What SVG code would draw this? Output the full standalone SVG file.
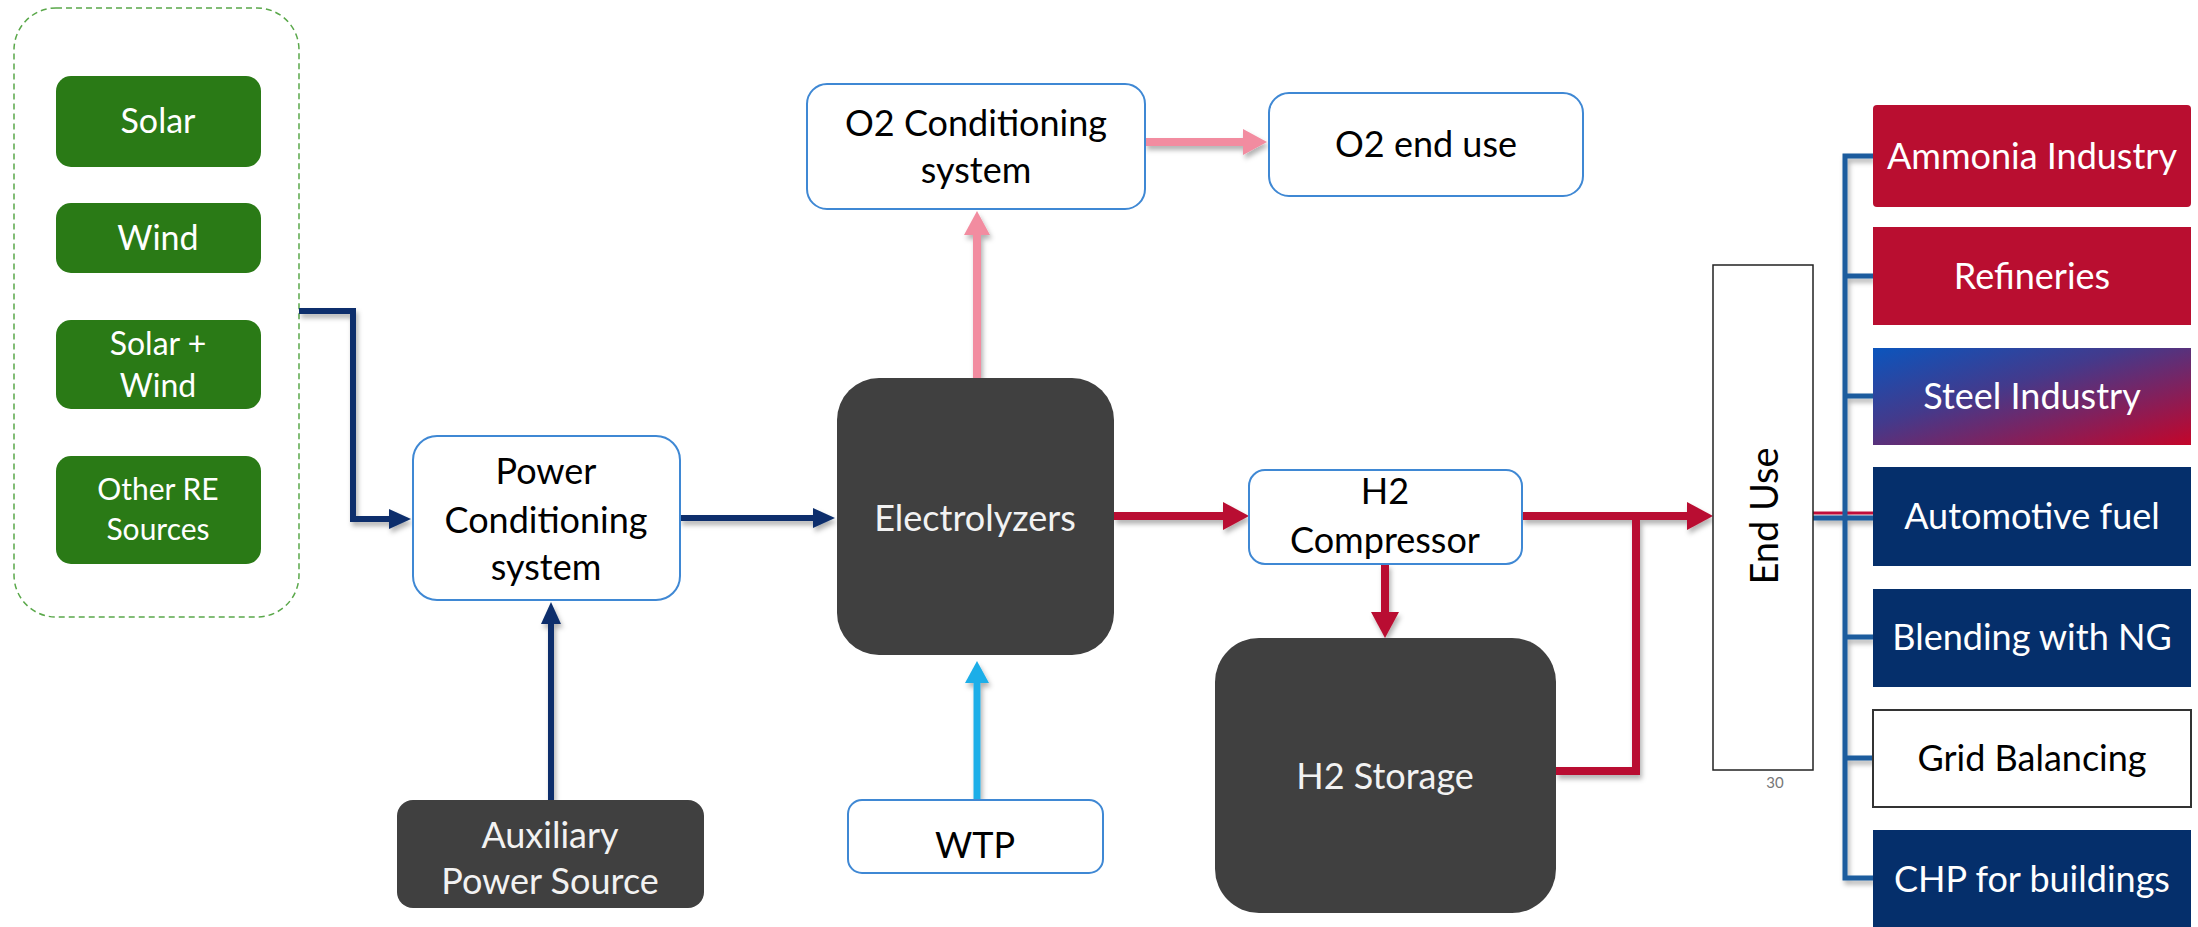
<svg xmlns="http://www.w3.org/2000/svg" width="2198" height="927" viewBox="0 0 2198 927">
<defs>
<style>
text{font-family:Lato,"Open Sans","Liberation Sans",sans-serif;text-anchor:middle}
.g{fill:#2a7a16}
.gt{fill:#ffffff;font-size:34px}
.wb{fill:#ffffff;stroke:#3f88d4;stroke-width:2}
.dk{fill:#404040}
.bt{fill:#000000;font-size:36px}
.wt{fill:#f2f2f2;font-size:36px}
.nv{fill:#052f6b}
.rd{fill:#b90e30}
.rt{fill:#ffffff;font-size:36px}
.c{fill:none;stroke-linejoin:miter}
.navy{stroke:#0b2f6c;stroke-width:6}
.red{stroke:#b90e30;stroke-width:8}
.pink{stroke:#f28ca0;stroke-width:8}
.lb{stroke:#1eaee8;stroke-width:7}
.bus{stroke:#1b5b9e;stroke-width:5}
</style>
<linearGradient id="steel" x1="0" y1="0" x2="1" y2="1">
<stop offset="0" stop-color="#0b55bd"/>
<stop offset="0.4" stop-color="#433a8c"/>
<stop offset="1" stop-color="#c4052a"/>
</linearGradient>
<filter id="sh" x="-20%" y="-20%" width="140%" height="140%">
<feDropShadow dx="2" dy="4" stdDeviation="2.5" flood-color="#000" flood-opacity="0.3"/>
</filter>
<marker id="mNavy" markerUnits="userSpaceOnUse" markerWidth="22" markerHeight="20" refX="12" refY="10" orient="auto"><path d="M0,0 L22,10 L0,20 z" fill="#0b2f6c"/></marker>
<marker id="mRed" markerUnits="userSpaceOnUse" markerWidth="26" markerHeight="28" refX="14" refY="14" orient="auto"><path d="M0,0 L26,14 L0,28 z" fill="#b90e30"/></marker>
<marker id="mPink" markerUnits="userSpaceOnUse" markerWidth="24" markerHeight="26" refX="14" refY="13" orient="auto"><path d="M0,0 L24,13 L0,26 z" fill="#f28ca0"/></marker>
<marker id="mLb" markerUnits="userSpaceOnUse" markerWidth="22" markerHeight="24" refX="12" refY="12" orient="auto"><path d="M0,0 L22,12 L0,24 z" fill="#1eaee8"/></marker>
</defs>
<rect width="2198" height="927" fill="#ffffff"/>

<g id="re-sources">
<rect x="14" y="8" width="285" height="609" rx="42" fill="none" stroke="#5aa84a" stroke-width="1.5" stroke-dasharray="6,4"/>
</g>
<g id="solar"><rect class="g" x="56" y="76" width="205" height="91" rx="15"/><text class="gt" x="158" y="133">Solar</text></g>
<g id="wind"><rect class="g" x="56" y="203" width="205" height="70" rx="15"/><text class="gt" x="158" y="250">Wind</text></g>
<g id="solar-wind"><rect class="g" x="56" y="320" width="205" height="89" rx="15"/><text class="gt" x="158" y="355" style="font-size:32px">Solar  +</text><text class="gt" x="158" y="397" style="font-size:32px">Wind</text></g>
<g id="other-re"><rect class="g" x="56" y="456" width="205" height="108" rx="15"/><text class="gt" x="158" y="500" style="font-size:30px">Other RE</text><text class="gt" x="158" y="540" style="font-size:30px">Sources</text></g>

<g id="connectors" filter="url(#sh)">
<path class="c navy" d="M299,311 H353 V519 H401" marker-end="url(#mNavy)"/>
<path class="c navy" d="M680,518 H825" marker-end="url(#mNavy)"/>
<path class="c navy" d="M551,800 V612" marker-end="url(#mNavy)"/>
<path class="c lb" d="M977,800 V671" marker-end="url(#mLb)"/>
<path class="c pink" d="M977,378 V221" marker-end="url(#mPink)"/>
<path class="c pink" d="M1145,142 H1257" marker-end="url(#mPink)"/>
<path class="c red" d="M1114,516 H1237" marker-end="url(#mRed)"/>
<path class="c red" d="M1385,564 V626" marker-end="url(#mRed)"/>
<path class="c red" d="M1522,516 H1701" marker-end="url(#mRed)"/>
<path class="c red" d="M1556,771 H1636 V516"/>
<path class="c bus" d="M1813,518 H1873"/>
<path class="c" d="M1813,513 H1873" stroke="#c0103a" stroke-width="3"/>
<path class="c bus" d="M1873,156 H1845 V878 H1873 M1845,276 H1873 M1845,396 H1873 M1845,637 H1873 M1845,758 H1873"/>
</g>

<g id="pcs"><rect class="wb" x="413" y="436" width="267" height="164" rx="24"/><text class="bt" x="546" y="484">Power</text><text class="bt" x="546" y="533">Conditioning</text><text class="bt" x="546" y="580">system</text></g>
<g id="aux"><rect class="dk" x="397" y="800" width="307" height="108" rx="16"/><text class="wt" x="550" y="848">Auxiliary</text><text class="wt" x="550" y="894">Power Source</text></g>
<g id="electrolyzers"><rect class="dk" x="837" y="378" width="277" height="277" rx="42"/><text class="wt" x="975" y="531">Electrolyzers</text></g>
<g id="wtp"><rect class="wb" x="848" y="800" width="255" height="73" rx="14"/><text class="bt" x="975" y="858">WTP</text></g>
<g id="o2-cond"><rect class="wb" x="807" y="84" width="338" height="125" rx="20"/><text class="bt" x="976" y="136">O2 Conditioning</text><text class="bt" x="976" y="183">system</text></g>
<g id="o2-end"><rect class="wb" x="1269" y="93" width="314" height="103" rx="20"/><text class="bt" x="1426" y="157">O2 end use</text></g>
<g id="h2-comp"><rect class="wb" x="1249" y="470" width="273" height="94" rx="16"/><text class="bt" x="1385" y="504">H2</text><text class="bt" x="1385" y="553">Compressor</text></g>
<g id="h2-storage"><rect class="dk" x="1215" y="638" width="341" height="275" rx="44"/><text class="wt" x="1385" y="789">H2 Storage</text></g>
<g id="end-use"><rect x="1713" y="265" width="100" height="505" fill="#ffffff" stroke="#222" stroke-width="1.5"/><text class="bt" transform="translate(1778,516) rotate(-90)" x="0" y="0" style="font-size:38px">End Use</text><text x="1775" y="788" style="font-size:15px;fill:#777">30</text></g>

<g id="ammonia"><rect class="rd" x="1873" y="105" width="318" height="102" rx="4"/><text class="rt" x="2032" y="169">Ammonia Industry</text></g>
<g id="refineries"><rect class="rd" x="1873" y="227" width="318" height="98"/><text class="rt" x="2032" y="289">Refineries</text></g>
<g id="steel"><rect x="1873" y="348" width="318" height="97" fill="url(#steel)"/><text class="rt" x="2032" y="409">Steel Industry</text></g>
<g id="automotive"><rect class="nv" x="1873" y="467" width="318" height="99"/><text class="rt" x="2032" y="529">Automotive fuel</text></g>
<g id="blending"><rect class="nv" x="1873" y="589" width="318" height="98"/><text class="rt" x="2032" y="650">Blending with NG</text></g>
<g id="grid"><rect x="1873" y="710" width="318" height="97" fill="#ffffff" stroke="#333" stroke-width="2"/><text class="bt" x="2032" y="771">Grid  Balancing</text></g>
<g id="chp"><rect class="nv" x="1873" y="830" width="318" height="97"/><text class="rt" x="2032" y="892">CHP for buildings</text></g>
</svg>
